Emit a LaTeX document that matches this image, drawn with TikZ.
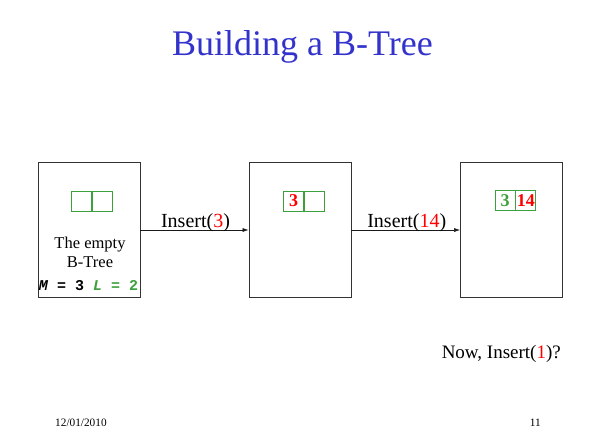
\documentclass[tikz,border=0pt]{standalone}
\usepackage{fontspec}
\setmainfont{Liberation Serif}
\setmonofont{Liberation Mono}
\usetikzlibrary{arrows.meta}
\definecolor{titleblue}{RGB}{51,51,204}
\definecolor{cellgreen}{RGB}{60,160,60}
\definecolor{keyred}{RGB}{255,0,0}
\tikzset{
  page/.style={x=1pt,y=-1pt},
  leafbox/.style={draw=black!80,line width=0.8pt,minimum width=102pt,minimum height=135pt,inner sep=0pt},
  cell/.style={draw=cellgreen,line width=0.8pt,minimum width=20pt,minimum height=20pt,inner sep=0pt,font=\fontsize{18}{18}\selectfont\bfseries},
  conn/.style={-{Latex[length=6pt,width=4pt]},line width=0.6pt,black!90},
  lbl/.style={font=\fontsize{20}{22}\selectfont,inner sep=0pt},
}
\begin{document}
\begin{tikzpicture}[page]
\useasboundingbox (0,0) rectangle (593,446);
\node[font=\fontsize{36}{40}\selectfont,text=titleblue,anchor=base,inner sep=0pt] (title) at (302.5,56) {Building a B-Tree};

\node[leafbox] (b1) at (89,230) {};
\node[leafbox] (b2) at (300,230) {};
\node[leafbox] (b3) at (511.5,230) {};

\node[cell] (e1) at (81.5,201.5) {};
\node[cell,anchor=west] (e2) at (e1.east) {};
\node[font=\fontsize{16.5}{18}\selectfont,inner sep=0pt,anchor=base] (empty1) at (90,248) {The empty};
\node[font=\fontsize{16.5}{18}\selectfont,inner sep=0pt,anchor=base] (empty2) at (90,267) {B-Tree};
\node[font=\ttfamily\bfseries\fontsize{15}{15}\selectfont,inner sep=0pt,anchor=base] (ml) at (88.5,290) {\textit{M} = 3 \textcolor{cellgreen}{\textit{L} = 2}};

\node[cell,text=keyred] (c1) at (293.5,201) {3};
\node[cell,anchor=west] (c2) at (c1.east) {};

\node[cell,text=cellgreen] (d1) at (505,200.5) {3};
\node[cell,anchor=west,text=keyred] (d2) at (d1.east) {14};

\draw[conn] (b1.east) -- (b2.west) coordinate[midway] (m1);
\draw[conn] (b2.east) -- (b3.west) coordinate[midway] (m2);
\node[lbl,anchor=base] (i1) at ([xshift=1pt,yshift=3pt]m1) {Insert(\textcolor{keyred}{3})};
\node[lbl,anchor=base] (i2) at ([xshift=1pt,yshift=3pt]m2) {Insert(\textcolor{keyred}{14})};

\node[font=\fontsize{19}{21}\selectfont,inner sep=0pt,anchor=base east] (q) at (561,358) {Now, Insert(\textcolor{keyred}{1})?};
\node[font=\fontsize{11.3}{12}\selectfont,anchor=base west,inner sep=0pt] (date) at (55,426) {12/01/2010};
\node[font=\fontsize{11.3}{12}\selectfont,anchor=base east,inner sep=0pt] (num) at (541,426) {11};
\end{tikzpicture}
\end{document}
